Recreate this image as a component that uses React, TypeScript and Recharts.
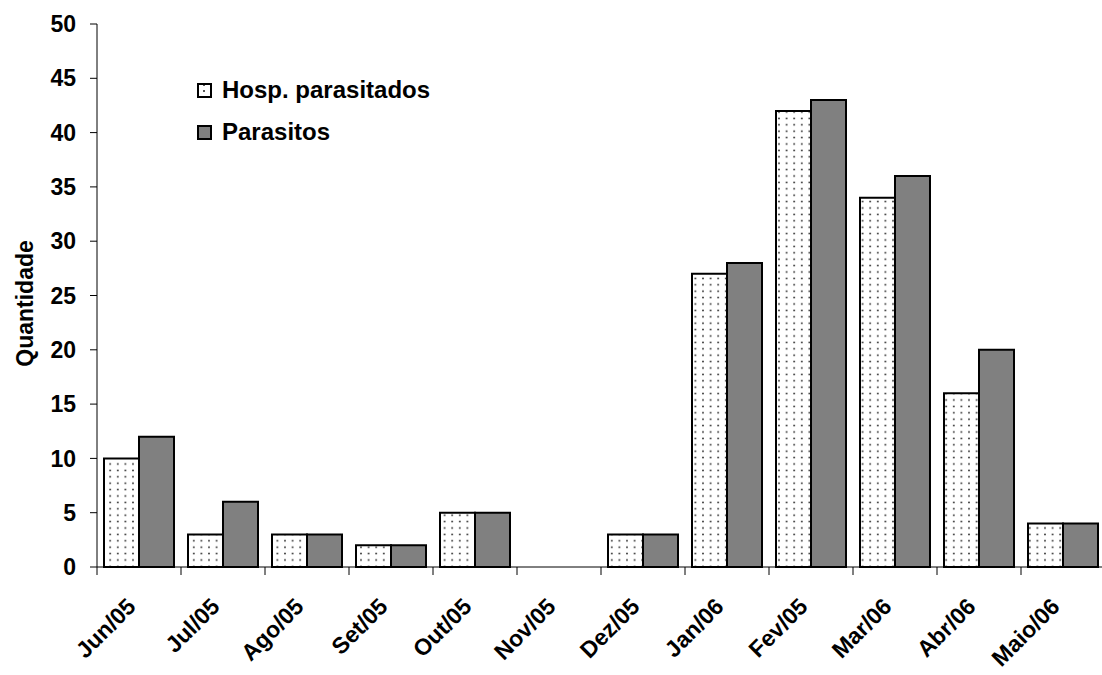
import { Bar, BarChart, Legend, XAxis, YAxis } from "recharts";

const months = [
  "Jun/05", "Jul/05", "Ago/05", "Set/05", "Out/05", "Nov/05",
  "Dez/05", "Jan/06", "Fev/05", "Mar/06", "Abr/06", "Maio/06",
];
const hospParasitados = [10, 3, 3, 2, 5, 0, 3, 27, 42, 34, 16, 4];
const parasitos = [12, 6, 3, 2, 5, 0, 3, 28, 43, 36, 20, 4];
const yTicks = [0, 5, 10, 15, 20, 25, 30, 35, 40, 45, 50];

const data = months.map((m, i) => ({
  month: m,
  hosp: hospParasitados[i],
  parasitos: parasitos[i],
}));

const FONT = "'Liberation Sans', Arial, sans-serif";
const BAND = 84;
const FS = 23;

function MonthTick({ x, y, payload }: any) {
  const ax = x - 2;
  const ay = y + 41;
  return (
    <g>
      <line x1={x - BAND / 2} y1={y} x2={x - BAND / 2} y2={y + 8} stroke="#000" />
      <text
        x={ax}
        y={ay}
        textAnchor="end"
        transform={`rotate(-45, ${ax}, ${ay})`}
        fontFamily={FONT}
        fontWeight="bold"
        fontSize={FS}
        fill="#000"
      >
        {payload.value}
      </text>
    </g>
  );
}

function LegendBox() {
  const items = [
    { label: "Hosp. parasitados", fill: "url(#dotsLegend)" },
    { label: "Parasitos", fill: "#808080" },
  ];
  return (
    <svg width={320} height={90} style={{ overflow: "visible", display: "block" }}>
      <defs>
        <pattern id="dotsLegend" patternUnits="userSpaceOnUse" width={14} height={6}>
          <rect width={14} height={6} fill="#fff" />
          <circle cx={8} cy={3} r={1} fill="#222" />
        </pattern>
      </defs>
      {items.map((it, i) => (
        <g key={it.label} transform={`translate(0, ${i * 42})`}>
          <rect x={2} y={8} width={13} height={13} fill={it.fill} stroke="#000" strokeWidth={2} />
          <text x={26} y={22} fontFamily={FONT} fontWeight="bold" fontSize={24} fill="#000">
            {it.label}
          </text>
        </g>
      ))}
    </svg>
  );
}

export default function App() {
  return (
    <div
      style={{
        position: "fixed",
        left: 0,
        top: 0,
        width: 1102,
        height: 675,
        overflow: "hidden",
        background: "#fff",
      }}
    >
      <BarChart
        width={1110}
        height={675}
        data={data}
        margin={{ top: 24, right: 5, left: 0, bottom: 0 }}
        barCategoryGap={7}
        barGap={0}
      >
        <defs>
          <pattern id="dots" patternUnits="userSpaceOnUse" width={7.6} height={6.4}>
            <rect width={7.6} height={6.4} fill="#fff" />
            <circle cx={3.8} cy={3.2} r={0.9} fill="#222" />
          </pattern>
        </defs>
        <XAxis
          dataKey="month"
          interval={0}
          height={108}
          axisLine={{ stroke: "#000" }}
          tickLine={false}
          tickSize={0}
          tickMargin={0}
          tick={<MonthTick />}
        />
        <YAxis
          width={97}
          domain={[0, 50]}
          ticks={yTicks}
          interval={0}
          axisLine={{ stroke: "#000" }}
          tickLine={{ stroke: "#000" }}
          tickSize={7}
          tickMargin={14}
          tick={{ fontFamily: FONT, fontWeight: "bold", fontSize: FS, fill: "#000" }}
          label={(props: any) => {
            const vb = props.viewBox;
            const lx = 33;
            const ly = vb.y + vb.height / 2 + 8;
            return (
              <text
                x={lx}
                y={ly}
                textAnchor="middle"
                transform={`rotate(-90, ${lx}, ${ly})`}
                fontFamily={FONT}
                fontWeight="bold"
                fontSize={FS}
                fill="#000"
              >
                Quantidade
              </text>
            );
          }}
        />
        <Legend
          layout="vertical"
          align="center"
          verticalAlign="middle"
          wrapperStyle={{ left: 196, top: 76, width: 320, height: 90 }}
          content={() => <LegendBox />}
        />
        <Bar
          dataKey="hosp"
          name="Hosp. parasitados"
          fill="url(#dots)"
          stroke="#000"
          strokeWidth={2}
          isAnimationActive={false}
        />
        <Bar
          dataKey="parasitos"
          name="Parasitos"
          fill="#808080"
          stroke="#000"
          strokeWidth={2}
          isAnimationActive={false}
        />
      </BarChart>
    </div>
  );
}
